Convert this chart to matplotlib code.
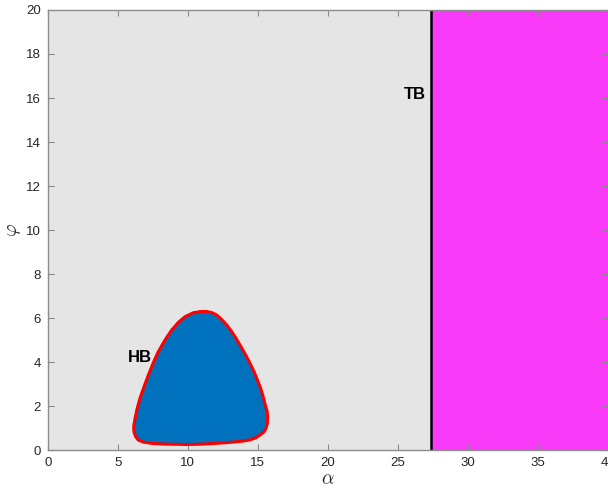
import matplotlib
matplotlib.use("Agg")
import matplotlib.pyplot as plt

plt.rcParams['font.family'] = ['Liberation Sans', 'DejaVu Sans']
plt.rcParams['mathtext.fontset'] = 'cm'

# Parameter ranges
alpha_range = [0, 40]
phi_range = [0, 20]
x_ticks = [0, 5, 10, 15, 20, 25, 30, 35, 40]
y_ticks = [0, 2, 4, 6, 8, 10, 12, 14, 16, 18, 20]

# Transcritical bifurcation boundary
tb_alpha = 27.4

# Hopf bifurcation curve (closed loop in the alpha-phi plane)
hb_alpha = [10.95, 10.40, 9.81, 9.33, 8.85, 8.38, 7.90, 7.55, 7.19, 6.88,
            6.59, 6.38, 6.24, 6.14, 6.16, 6.28, 6.47, 6.83, 7.43, 8.26,
            9.09, 9.93, 10.76, 11.71, 12.66, 13.26, 14.00, 14.45, 14.88, 15.16,
            15.45, 15.59, 15.69, 15.71, 15.68, 15.54, 15.38, 15.21, 14.98, 14.74,
            14.44, 14.14, 13.80, 13.45, 13.12, 12.79, 12.43, 12.07, 11.70, 11.30,
            10.95]
hb_phi = [6.29, 6.24, 6.06, 5.80, 5.45, 5.00, 4.47, 3.98, 3.41, 2.88,
          2.35, 1.86, 1.44, 1.06, 0.83, 0.61, 0.45, 0.36, 0.30, 0.27,
          0.26, 0.25, 0.26, 0.29, 0.33, 0.36, 0.41, 0.46, 0.56, 0.68,
          0.83, 0.98, 1.21, 1.44, 1.74, 2.05, 2.45, 2.80, 3.18, 3.56,
          3.95, 4.32, 4.70, 5.08, 5.40, 5.68, 5.93, 6.14, 6.25, 6.30,
          6.29]

fig = plt.figure(figsize=(6.08, 4.95), dpi=100)
ax = fig.add_axes([0.0785, 0.0909, 0.921, 0.8889])

gray = '#E5E5E5'
magenta = '#F93BF9'
blue = '#0072BD'
axis_col = '#8C8C8C'
text_col = '#262626'

ax.set_facecolor(gray)
ax.axvspan(tb_alpha, alpha_range[1], color=magenta, zorder=1, lw=0)
ax.axvline(tb_alpha, color='black', lw=1.8, zorder=3)

ax.fill(hb_alpha, hb_phi, color=blue, zorder=2, lw=0)
ax.plot(hb_alpha, hb_phi, color='#FF0000', lw=2.2, zorder=4,
        solid_joinstyle='round')

ax.text(6.55, 4.2, 'HB', fontsize=12, fontweight='bold', ha='center',
        va='center', color='black', zorder=5)
ax.text(27.0, 16.15, 'TB', fontsize=12, fontweight='bold', ha='right',
        va='center', color='black', zorder=5)

ax.set_xlim(alpha_range)
ax.set_ylim(phi_range)
ax.set_xticks(x_ticks)
ax.set_yticks(y_ticks)
ax.tick_params(direction='in', length=4, width=0.8, color=axis_col,
               labelcolor=text_col, labelsize=9.5, top=True, right=True,
               pad=5)
for s in ax.spines.values():
    s.set_color(axis_col)
    s.set_linewidth(1.0)
    s.set_zorder(6)

ax.set_xlabel(r'$\alpha$', fontsize=14, color=text_col, labelpad=2)
ax.set_ylabel(r'$\varphi$', fontsize=14, color=text_col, labelpad=2)

fig.savefig('out.png', dpi=100)
